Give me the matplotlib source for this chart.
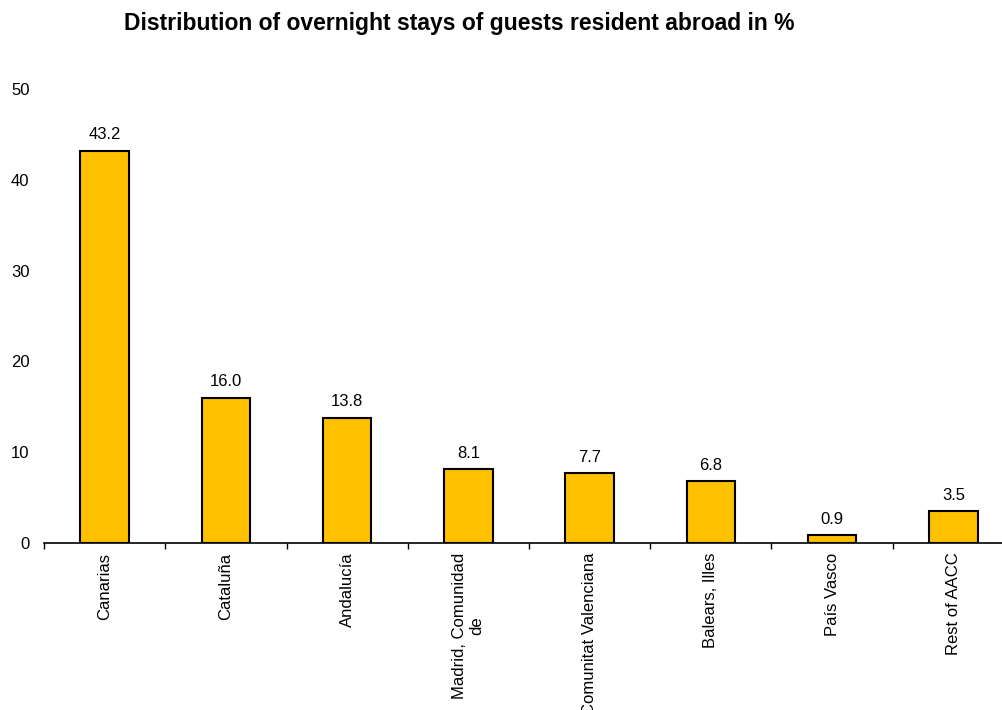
import matplotlib
matplotlib.use("Agg")
import matplotlib.pyplot as plt
import numpy as np

categories = ["Canarias", "Cataluña", "Andalucía", "Madrid, Comunidad\nde",
              "Comunitat Valenciana", "Balears, Illes", "País Vasco", "Rest of AACC"]
values = [43.2, 16.0, 13.8, 8.1, 7.7, 6.8, 0.9, 3.5]
yticks = [0, 10, 20, 30, 40, 50]
title = "Distribution of overnight stays of guests resident abroad in %"

plt.rcParams['font.family'] = ['Liberation Sans', 'DejaVu Sans']

fig = plt.figure(figsize=(10.03, 7.10), dpi=100)
ax = fig.add_axes([0.0439, 0.2352, 0.967, 0.6394])

x = np.arange(len(categories))
bars = ax.bar(x, values, width=0.4, color="#FFC000", edgecolor="black", linewidth=1.5, zorder=3)

for xi, v in zip(x, values):
    ax.annotate(f"{v:.1f}", (xi, v), xytext=(0, 6), textcoords="offset points",
                ha="center", va="bottom", fontsize=12)

ax.set_xlim(-0.5, len(categories) - 0.5)
ax.set_ylim(0, 50)
ax.set_yticks(yticks)
ax.set_yticklabels([str(t) for t in yticks], fontsize=12)
ax.tick_params(axis="y", length=0, pad=10.5)

ax.set_xticks(x)
ax.set_xticklabels(categories, rotation=90, fontsize=12, va="top", ha="center",
                   multialignment="center")
ax.tick_params(axis="x", which="major", length=0, pad=7)
ax.set_xticks(np.arange(-0.5, len(categories) + 0.5, 1), minor=True)
ax.tick_params(axis="x", which="minor", length=4, width=1, direction="out", color="black")

for s in ["left", "top", "right"]:
    ax.spines[s].set_visible(False)
ax.spines["bottom"].set_linewidth(1.2)
ax.spines["bottom"].set_color("black")

fig.text(0.458, 0.967, title, ha="center", va="center", fontsize=16.5, fontweight="bold")

fig.savefig("out.png", dpi=100)
